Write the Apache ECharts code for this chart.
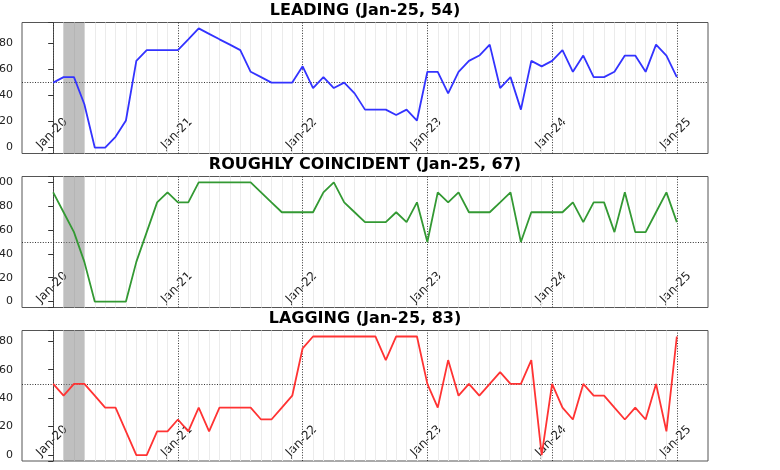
<!DOCTYPE html>
<html><head><meta charset="utf-8">
<script src="https://cdn.jsdelivr.net/npm/echarts@6/dist/echarts.min.js"></script>
<style>html,body{margin:0;padding:0;background:#fff}#c{width:780px;height:470px}</style>
</head><body><div id="c"></div>
<script>
// Monthly index: 0 = Jan-20 ... 60 = Jan-25
const yearTickIdx = [0, 12, 24, 36, 48, 60];
const yearTickLabels = ['Jan-20', 'Jan-21', 'Jan-22', 'Jan-23', 'Jan-24', 'Jan-25'];
const recessionStart = 1; // Feb-20
const recessionEnd = 3;   // Apr-20
const refLevel = 50;

const titles = ['LEADING (Jan-25, 54)', 'ROUGHLY COINCIDENT (Jan-25, 67)', 'LAGGING (Jan-25, 83)'];

const leading = [50, 54.2, 54.2, 33.3, 0, 0, 8.3, 20.8, 66.7, 75, 75, 75,
  75, 83.3, 91.7, 87.5, 83.3, 79.2, 75, 58.3, 54.2, 50, 50, 50,
  62.5, 45.8, 54.2, 45.8, 50, 41.7, 29.2, 29.2, 29.2, 25, 29.2, 20.8,
  58.3, 58.3, 41.7, 58.3, 66.7, 70.8, 79.2, 45.8, 54.2, 29.2, 66.7, 62.5,
  66.7, 75, 58.3, 70.8, 54.2, 54.2, 58.3, 70.8, 70.8, 58.3, 79.2, 70.8,
  54.2];

const coincident = [91.7, 75, 58.3, 33.3, 0, 0, 0, 0, 33.3, 58.3, 83.3, 91.7,
  83.3, 83.3, 100, 100, 100, 100, 100, 100, 91.7, 83.3, 75, 75,
  75, 75, 91.7, 100, 83.3, 75, 66.7, 66.7, 66.7, 75, 66.7, 83.3,
  50, 91.7, 83.3, 91.7, 75, 75, 75, 83.3, 91.7, 50, 75, 75,
  75, 75, 83.3, 66.7, 83.3, 83.3, 58.3, 91.7, 58.3, 58.3, 75, 91.7,
  66.7];

const lagging = [50, 41.7, 50, 50, 41.7, 33.3, 33.3, 16.7, 0, 0, 16.7, 16.7,
  25, 16.7, 33.3, 16.7, 33.3, 33.3, 33.3, 33.3, 25, 25, 33.3, 41.7,
  75, 83.3, 83.3, 83.3, 83.3, 83.3, 83.3, 83.3, 66.7, 83.3, 83.3, 83.3,
  50, 33.3, 66.7, 41.7, 50, 41.7, 50, 58.3, 50, 50, 66.7, 0,
  50, 33.3, 25, 50, 41.7, 41.7, 33.3, 25, 33.3, 25, 50, 16.7,
  83.3];

const seriesList = [leading, coincident, lagging];
const colors = ['#3333ff', '#339933', '#ff3333'];
const yRanges = [[-4.58, 96.25], [-5, 105], [-4.17, 87.5]];
const gridTops = [22.5, 176.5, 330.5];
const gridHeights = [131, 131, 130.5];
const plotLeft = 22, plotWidth = 686;
const FONT = 'DejaVu Sans';

const nMonths = leading.length;
const minorLines = [];
for (let k = 1; k < nMonths - 1; k++) {
  if (k % 12 !== 0) minorLines.push({ xAxis: k, lineStyle: { color: '#ebebeb', width: 1, type: 'solid' } });
}
const majorLines = yearTickIdx.map(k => ({ xAxis: k, lineStyle: { color: '#333', width: 1, type: [1, 1.6] } }));

const grids = [], xAxes = [], yAxes = [], series = [], graphics = [];
for (let i = 0; i < 3; i++) {
  grids.push({ left: plotLeft, width: plotWidth, top: gridTops[i], height: gridHeights[i],
    outerBoundsMode: 'none', containLabel: false,
    show: true, borderColor: '#555', borderWidth: 1, backgroundColor: 'transparent' });
  xAxes.push({
    gridIndex: i, type: 'value', min: -3, max: 63, interval: 1,
    splitLine: { show: false }, axisTick: { show: false }, axisLine: { show: false },
    axisLabel: {
      inside: true, rotate: 45, margin: 21, align: 'center', verticalAlign: 'middle',
      fontSize: 12, color: '#222', fontFamily: FONT, padding: [0, 3, 0, 0],
      formatter: v => {
        const r = Math.round(v);
        if (Math.abs(v - r) > 1e-6) return '';
        const idx = yearTickIdx.indexOf(r);
        return idx >= 0 ? yearTickLabels[idx] : '';
      }
    }
  });
  yAxes.push({
    gridIndex: i, type: 'value', min: yRanges[i][0], max: yRanges[i][1], splitNumber: 5,
    splitLine: { show: false },
    axisLine: { show: true, lineStyle: { color: '#555' } },
    axisTick: { show: true, length: 5, lineStyle: { color: '#333' } },
    axisLabel: {
      margin: 9, fontSize: 11, color: '#222', fontFamily: FONT,
      formatter: v => {
        const q = v / 20;
        return Math.abs(q - Math.round(q)) < 1e-6 ? String(Math.round(v)) : '';
      }
    }
  });
  series.push({
    type: 'line', xAxisIndex: i, yAxisIndex: i, z: 3,
    data: seriesList[i].map((v, k) => [k, v]),
    showSymbol: false, symbol: 'none',
    lineStyle: { color: colors[i], width: 1.8 },
    markArea: { silent: true, z: 2, itemStyle: { color: 'rgba(128,128,128,0.5)', opacity: 1 },
      data: [[{ xAxis: recessionStart }, { xAxis: recessionEnd }]] },
    markLine: { silent: true, z: 1, symbol: 'none', label: { show: false },
      animation: false,
      data: minorLines.concat(majorLines, [{ yAxis: refLevel, lineStyle: { color: '#333', width: 1, type: [1, 1.6] } }]) }
  });
  graphics.push({
    type: 'text', x: plotLeft + plotWidth / 2, y: gridTops[i] - 11.2,
    style: { text: titles[i], align: 'center', verticalAlign: 'middle',
      font: 'bold 16px "DejaVu Sans"', fill: '#000' }
  });
}

const chart = echarts.init(document.getElementById('c'), null, { renderer: 'canvas' });
chart.setOption({
  animation: false,
  backgroundColor: '#fff',
  grid: grids, xAxis: xAxes, yAxis: yAxes, series: series,
  graphic: graphics
});
</script></body></html>
